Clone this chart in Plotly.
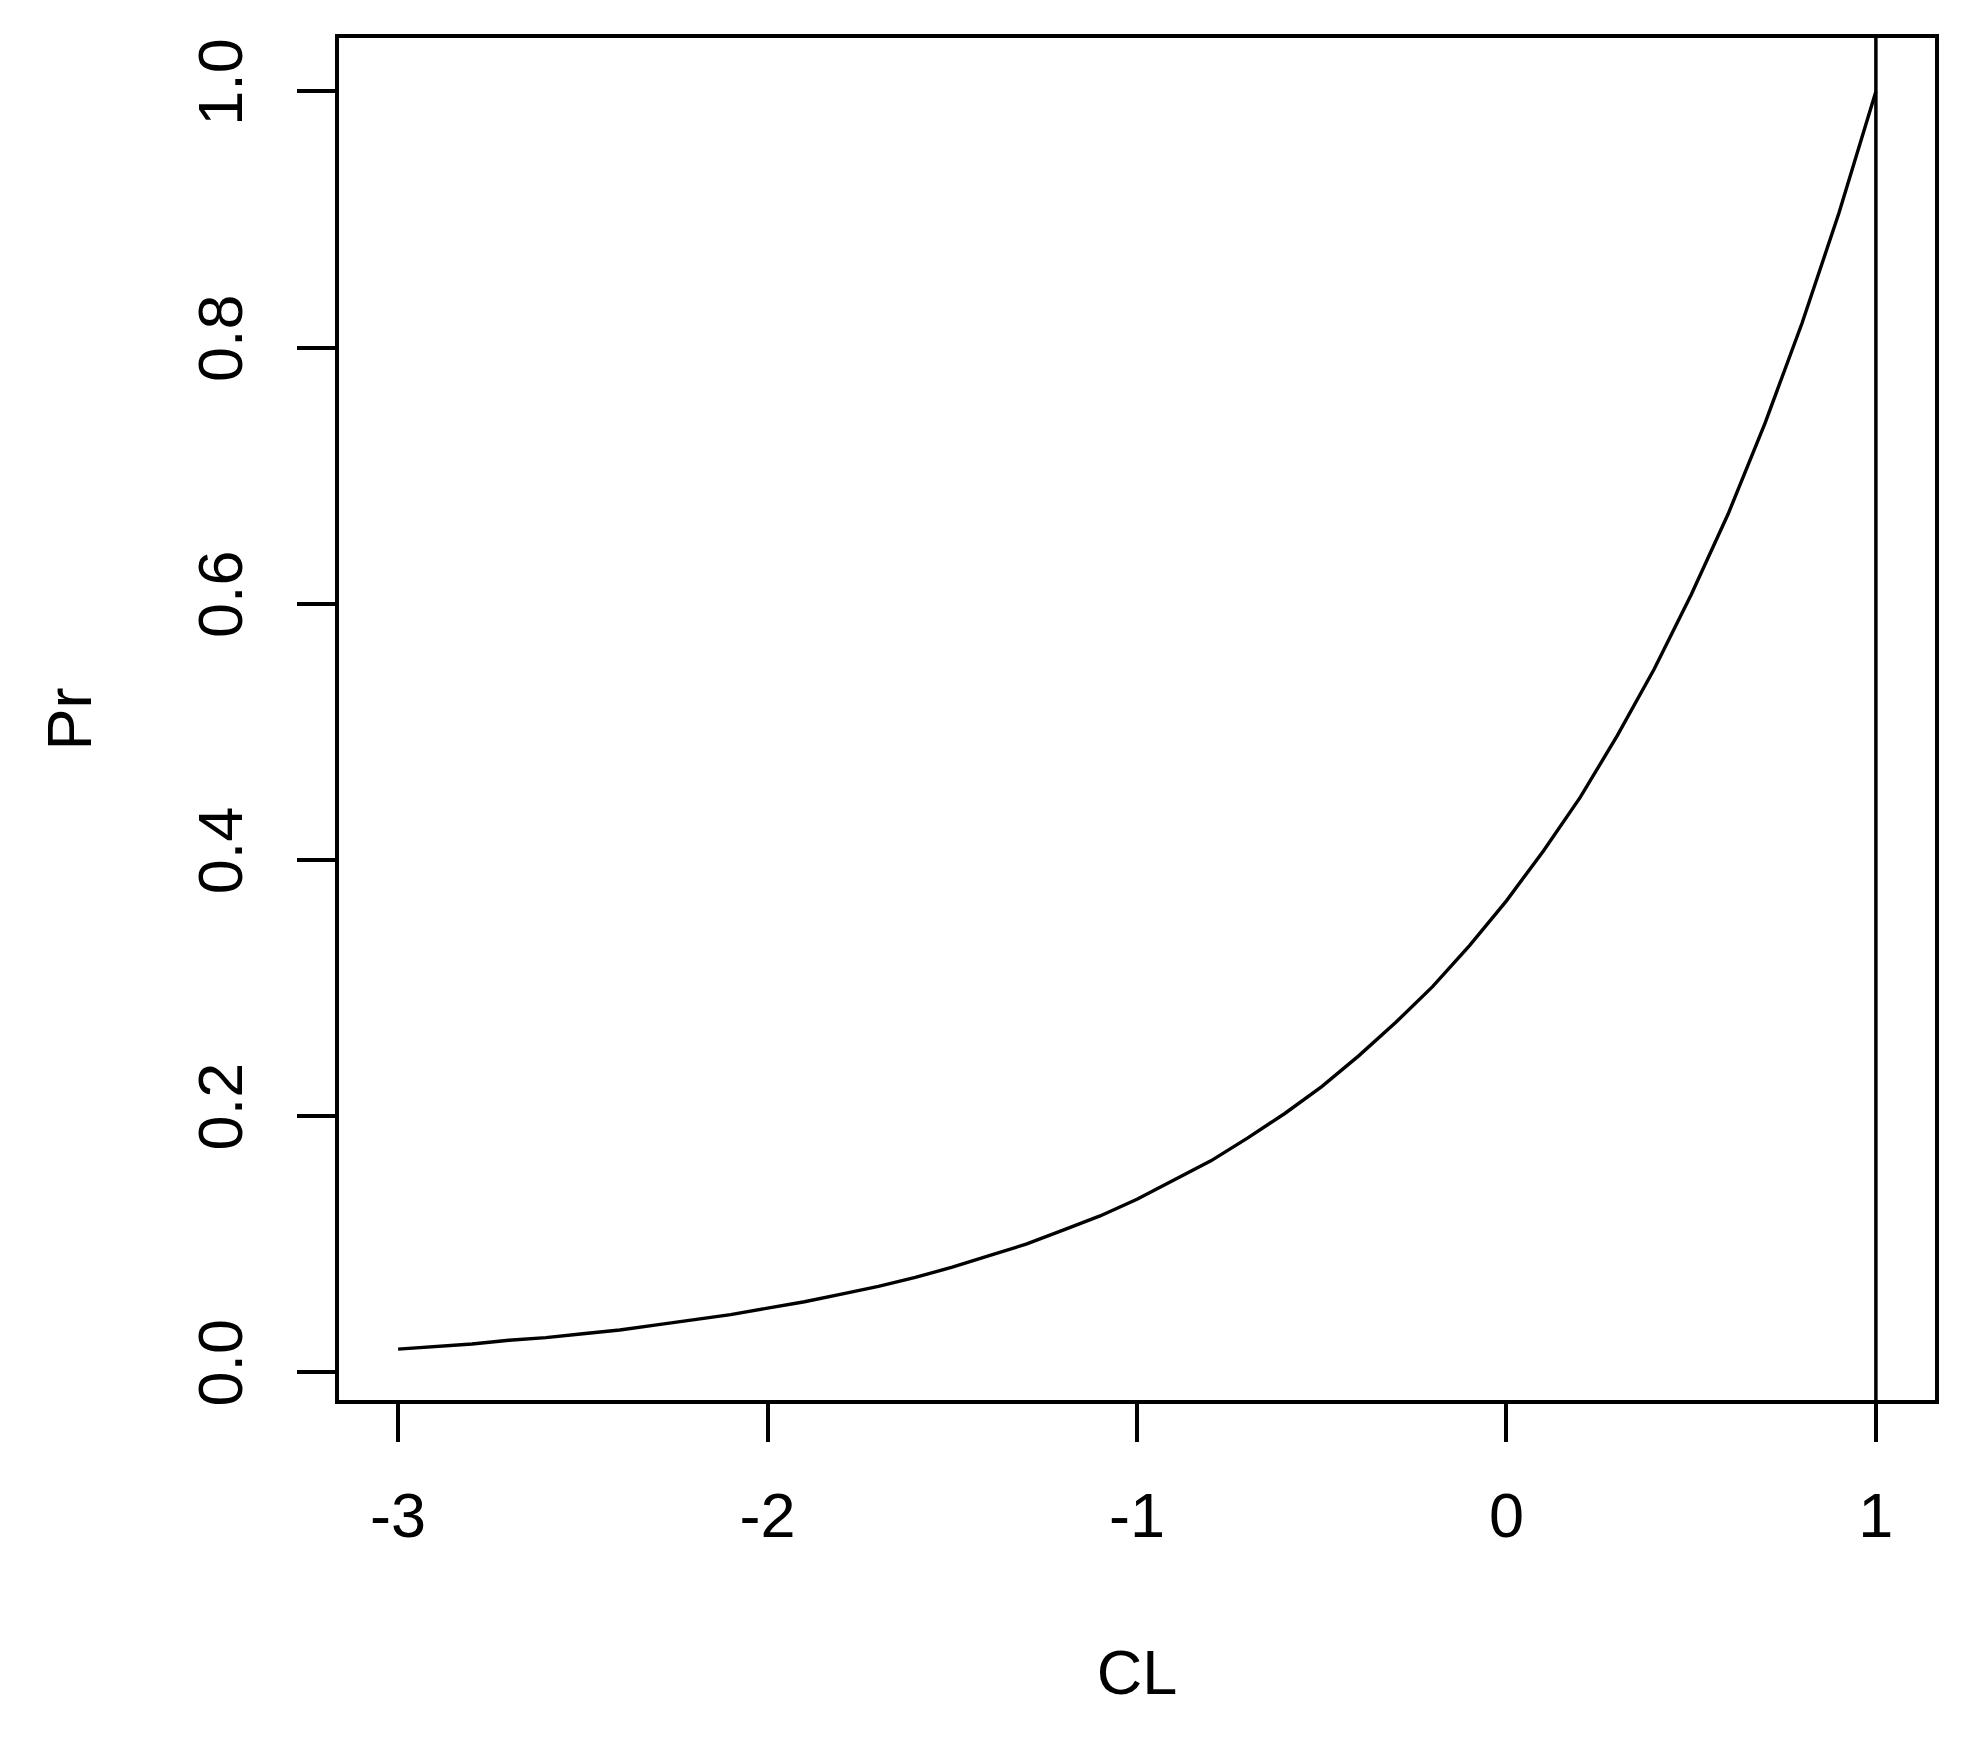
import plotly.graph_objects as go

# values
cl = [-3.0, -2.9, -2.8, -2.7, -2.6, -2.5, -2.4, -2.3, -2.2, -2.1, -2.0,
      -1.9, -1.8, -1.7, -1.6, -1.5, -1.4, -1.3, -1.2, -1.1, -1.0,
      -0.9, -0.8, -0.7, -0.6, -0.5, -0.4, -0.3, -0.2, -0.1, 0.0,
      0.1, 0.2, 0.3, 0.4, 0.5, 0.6, 0.7, 0.8, 0.9, 1.0]
pr = [0.018, 0.020, 0.022, 0.025, 0.027, 0.030, 0.033, 0.037, 0.041, 0.045, 0.050,
      0.055, 0.061, 0.067, 0.074, 0.082, 0.091, 0.100, 0.111, 0.122, 0.135,
      0.150, 0.165, 0.183, 0.202, 0.223, 0.247, 0.273, 0.301, 0.333, 0.368,
      0.407, 0.449, 0.497, 0.549, 0.607, 0.670, 0.741, 0.819, 0.905, 1.0]

x_ticks = [-3, -2, -1, 0, 1]
y_ticks = [0.0, 0.2, 0.4, 0.6, 0.8, 1.0]
y_labels = ["0.0", "0.2", "0.4", "0.6", "0.8", "1.0"]
v_line = 1

fnt = dict(family="Liberation Sans, Arial, sans-serif", size=63, color="black")

fig = go.Figure()
fig.add_trace(go.Scatter(x=cl, y=pr, mode="lines",
                         line=dict(color="black", width=3.4), showlegend=False))
fig.add_vline(x=v_line, line=dict(color="black", width=3.5))

fig.update_layout(
    width=1968, height=1750,
    margin=dict(l=331, r=41, t=30, b=358),
    paper_bgcolor="white", plot_bgcolor="white",
    font=fnt,
    xaxis=dict(
        range=[-3.16, 1.16], tickvals=x_ticks, ticktext=[str(v) for v in x_ticks],
        showgrid=False, zeroline=False,
        showline=True, mirror=True, linecolor="black", linewidth=3.5,
        ticks="outside", ticklen=38, tickwidth=3.5, tickcolor="black",
        ticklabelstandoff=20, tickfont=fnt,
        title=dict(text="CL", font=fnt, standoff=102),
    ),
    yaxis=dict(
        range=[-0.0217, 1.0417], tickvals=y_ticks, ticktext=y_labels,
        showgrid=False, zeroline=False,
        showline=True, mirror=True, linecolor="black", linewidth=3.5,
        ticks="outside", ticklen=38, tickwidth=3.5, tickcolor="black",
        tickangle=-90, ticklabelstandoff=30, tickfont=fnt,
        title=dict(text="Pr", font=fnt, standoff=74),
    ),
)

fig.write_html("out.html")
